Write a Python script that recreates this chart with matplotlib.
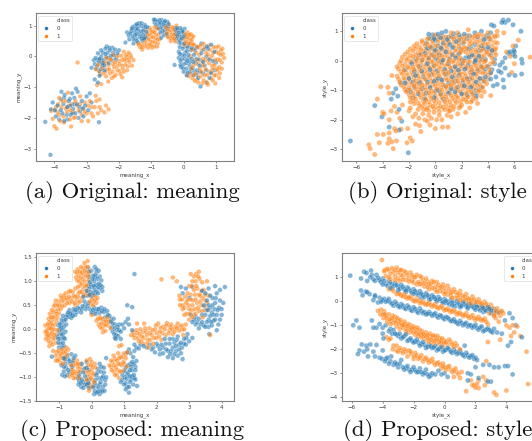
import numpy as np
import matplotlib
matplotlib.use("Agg")
import matplotlib.pyplot as plt
from matplotlib.lines import Line2D

BLUE = '#1f77b4'
ORANGE = '#ff7f0e'
TXT = '#3a3a3a'

a0 = [-4.28,-2.13,-4.12,-3.2,-2.62,-2.14,-4.1,-1.72,-4.05,-1.5,-3.95,-1.95,-3.9,-1.6,-3.85,-2.05,-3.8,-1.4,-3.75,-1.85,-3.7,-2.1,-3.68,-1.25,-3.6,-1.65,-3.55,-1.45,-3.5,-1.9,-3.45,-1.2,-3.42,-1.7,-3.38,-1.35,-3.33,-1.05,-3.3,-1.55,-3.28,-1.15,-3.2,-1.8,-3.15,-1.45,-3.1,-1.95,-3.05,-1.6,-3.0,-1.3,-2.95,-1.75,-2.85,-1.5,-3.25,-2.0,-3.6,-2.05,-3.78,-1.15,-3.5,-1.6,-3.35,-1.85,-2.9,-1.2,
-2.85,-0.37,-2.75,-0.25,-2.72,-0.05,-2.7,-0.4,-2.65,0.1,-2.62,-0.2,-2.6,-0.5,-2.55,0.0,-2.52,-0.3,-2.5,0.12,-2.48,-0.12,-2.45,-0.45,-2.42,0.25,-2.4,-0.02,-2.38,0.32,-2.35,0.12,-2.32,-0.22,-2.28,0.2,-2.25,0.02,-2.2,0.28,-2.18,0.12,-2.12,0.22,-2.05,0.1,-2.6,-0.63,-2.75,-0.75,-2.65,-0.85,-2.0,0.2,-2.58,-0.1,
-1.75,0.78,-1.65,0.75,-1.68,0.55,-1.6,0.9,-1.58,0.65,-1.55,0.42,-1.52,0.8,-1.5,1.0,-1.48,0.58,-1.45,0.72,-1.42,0.9,-1.4,0.45,-1.38,1.08,-1.36,0.62,-1.32,0.82,-1.3,0.98,-1.28,0.52,-1.25,0.7,-1.22,0.9,-1.2,1.02,-1.18,0.62,-1.15,0.8,-1.12,0.95,-1.8,0.45,
-0.92,1.2,-0.9,1.1,-0.85,1.02,-0.8,1.14,-0.78,0.9,-0.74,1.05,-0.72,0.78,-0.68,1.18,-0.66,0.95,-0.62,0.68,-0.6,1.1,-0.58,0.85,-0.55,1.0,-0.52,0.72,-0.5,1.12,-0.48,0.92,-0.7,0.6,
-0.28,0.92,-0.25,0.72,-0.22,0.58,-0.18,0.85,-0.15,0.45,-0.12,0.7,-0.1,0.92,-0.06,0.58,-0.03,0.8,0.0,0.65,0.03,0.9,-0.08,0.42,
-0.28,-0.28,-0.15,-0.05,-0.15,0.15,-0.12,0.3,-0.1,-0.15,-0.08,-0.35,-0.05,0.05,-0.03,0.25,0.0,-0.25,0.0,-0.5,0.02,0.42,0.05,-0.1,0.05,0.12,0.08,-0.4,0.1,-0.62,0.12,0.3,0.12,-0.15,0.15,0.05,0.18,-0.3,0.2,-0.5,0.22,0.2,0.25,-0.08,0.28,-0.38,0.3,-0.6,0.32,0.05,0.38,-0.22,0.42,-0.45,0.45,-0.7,0.52,-0.98,0.48,-0.1,0.55,0.1,0.6,-0.55,0.65,-0.3,0.7,0.0,0.75,0.25,0.8,-0.7,0.85,0.38,0.9,-0.15,0.95,-0.45,0.55,0.42,0.7,-0.85,0.72,0.32,
-3.98,-1.75,-3.8,-1.75,-3.72,-1.55,-3.62,-1.9,-3.45,-1.85,-3.38,-1.55,-3.22,-1.65,-3.12,-1.7,-3.52,-1.38,-3.7,-1.35,
-2.78,-0.12,-2.68,-0.32,-2.6,-0.08,-2.55,0.2,-2.45,-0.3,-2.42,0.08,-2.34,-0.05,-2.3,0.28,-2.22,-0.12,-2.15,0.03,-2.1,-0.1,-2.5,-0.22,-2.66,-0.12,-2.56,-0.42,
-1.62,0.82,-1.7,0.68,-1.55,0.55,-1.5,0.7,-1.45,0.5,-1.42,0.82,-1.4,1.0,-1.35,0.72,-1.3,0.6,-1.3,1.08,-1.25,0.82,-1.22,0.58,-1.18,0.95,-1.15,0.68,-1.58,0.95,-1.48,0.9,-1.45,1.05,
-0.88,1.18,-0.82,0.95,-0.75,1.18,-0.72,0.92,-0.7,1.1,-0.65,0.82,-0.62,1.03,-0.58,1.15,-0.56,0.75,-0.52,0.92,-0.47,1.05,-0.25,0.85,-0.2,0.68,-0.15,0.78,-0.1,0.62,-0.05,0.85,0.0,0.75,-0.12,0.52,-0.2,0.92,
-0.12,0.08,-0.1,-0.28,-0.05,-0.08,-0.02,-0.38,0.02,0.32,0.03,0.02,0.08,-0.22,0.1,0.18,0.12,-0.52,0.15,-0.05,0.18,0.38,0.2,-0.18,0.22,-0.4,0.25,0.28,0.3,-0.18,0.32,-0.48,0.35,0.2,0.4,-0.08,0.42,0.3,0.5,-0.5,0.5,-0.3,0.6,-0.18,0.62,0.22,0.7,-0.45,0.78,-0.1,0.85,-0.55,0.95,0.15,1.0,-0.2,0.4,-0.6]
a1 = [-4.05,-2.03,-4.0,-2.27,-3.93,-2.35,-4.1,-1.77,-4.0,-1.75,-3.9,-1.82,-3.88,-1.55,-3.82,-2.1,-3.78,-1.65,-3.72,-1.95,-3.7,-2.15,-3.65,-1.45,-3.6,-1.8,-3.58,-1.18,-3.52,-2.05,-3.48,-2.28,-3.45,-1.55,-3.42,-1.8,-3.35,-1.98,-3.3,-1.6,-3.25,-1.75,-3.2,-1.3,-3.15,-2.1,-3.1,-1.7,-3.05,-1.5,-3.0,-1.85,-2.95,-2.1,-2.9,-1.45,-2.85,-1.65,-2.8,-1.95,-2.75,-1.65,-2.72,-1.28,-2.65,-1.85,-2.6,-1.4,-2.55,-1.75,-2.45,-1.82,-2.4,-1.6,-2.32,-1.72,-3.28,-0.2,-3.6,-1.65,-3.85,-1.35,
-2.68,-0.93,-2.55,-0.9,-2.33,-0.82,-2.72,-0.42,-2.65,-0.28,-2.62,-0.48,-2.55,-0.15,-2.52,-0.38,-2.48,-0.55,-2.45,-0.22,-2.4,-0.65,-2.38,-0.05,-2.35,-0.42,-2.32,-0.28,-2.28,-0.55,-2.25,-0.12,-2.22,-0.7,-2.18,0.05,-2.15,-0.35,-2.12,-0.2,-2.1,-0.6,-2.05,-0.45,-2.02,0.02,-1.98,-0.25,-1.95,-0.58,-1.9,-0.12,-1.88,-0.4,-1.85,0.15,-1.82,-0.08,-1.8,-0.28,-1.78,0.05,-1.75,-0.45,-1.7,0.12,-1.68,-0.18,-1.62,-0.03,-1.6,-0.3,-1.55,-0.12,-1.9,-0.68,
-1.42,0.42,-1.35,0.3,-1.28,0.4,-1.28,0.22,-1.25,0.6,-1.2,0.32,-1.18,0.48,-1.12,0.72,-1.1,0.28,-1.08,0.55,-1.05,0.38,-1.02,0.85,-1.0,0.65,-0.98,0.28,-0.95,0.48,-0.9,0.78,-0.9,0.32,-0.86,0.58,-0.82,0.9,-0.8,0.42,-0.78,0.7,-0.75,0.55,-1.15,0.82,-1.05,0.92,-0.9,0.95,
-0.55,0.95,-0.52,0.75,-0.48,0.62,-0.45,1.03,-0.42,0.85,-0.4,0.5,-0.38,0.7,-0.35,0.95,-0.3,0.58,-0.28,0.8,-0.25,0.48,-0.22,1.0,-0.2,0.65,
0.0,0.55,0.02,0.38,0.05,0.7,0.08,0.48,0.12,0.33,0.12,0.78,0.15,0.6,0.2,0.42,0.22,0.72,0.25,0.55,0.28,0.38,0.3,0.65,
0.1,-0.6,0.18,-0.65,0.22,0.0,0.25,0.22,0.28,-0.72,0.3,-0.28,0.32,0.38,0.38,-0.55,0.38,0.12,0.42,-0.12,0.45,-0.85,0.45,0.3,0.5,-0.4,0.52,-0.65,0.55,0.2,0.58,-0.18,0.62,0.4,0.62,-0.78,0.68,-0.42,0.7,0.12,0.72,-0.6,0.75,-0.92,0.78,-0.22,0.82,0.2,0.85,-0.5,0.88,0.02,0.9,-0.78,0.92,0.3,0.95,-0.28,0.98,-0.88,1.0,-0.6,1.02,0.15,1.05,-0.1,1.08,0.32,1.1,-0.35,1.12,-0.55,1.15,0.05,1.18,-0.2,1.2,0.25,1.25,-0.05,1.05,-0.45,0.88,-0.3,0.6,-0.08,0.35,-0.8,
-3.95,-1.65,-3.85,-1.9,-3.75,-1.45,-3.65,-1.7,-3.55,-1.6,-3.5,-1.75,-3.4,-2.0,-3.35,-1.45,-3.2,-1.55,-3.15,-1.9,-3.05,-1.8,-2.95,-1.6,-2.85,-1.85,-2.7,-1.45,-2.6,-1.65,
-2.58,-0.6,-2.5,-0.28,-2.42,-0.5,-2.38,-0.18,-2.3,-0.42,-2.28,-0.08,-2.2,-0.5,-2.18,-0.25,-2.08,-0.02,-2.05,-0.32,-2.0,-0.15,-1.98,-0.48,-1.92,0.02,-1.9,-0.3,-1.85,-0.5,-1.8,-0.15,-1.75,-0.02,-1.72,-0.32,-1.65,0.05,-1.7,-0.1,-2.15,-0.65,
-1.38,0.38,-1.3,0.3,-1.22,0.52,-1.15,0.38,-1.12,0.6,-1.05,0.72,-1.02,0.48,-1.0,0.35,-0.95,0.62,-0.92,0.82,-0.88,0.45,-0.85,0.7,-0.82,0.32,-0.8,0.55,-0.98,0.78,
-0.5,0.85,-0.5,0.65,-0.45,0.95,-0.42,0.6,-0.4,0.78,-0.35,0.62,-0.32,0.88,-0.3,0.7,-0.28,0.52,-0.25,0.92,-0.22,0.75,-0.25,0.62,0.03,0.62,0.05,0.42,0.1,0.62,0.14,0.42,0.18,0.7,0.2,0.52,0.25,0.45,0.27,0.65,0.08,0.72,
0.2,-0.55,0.25,-0.38,0.3,-0.62,0.32,0.25,0.35,-0.12,0.4,0.32,0.42,-0.75,0.45,-0.25,0.48,0.05,0.52,0.35,0.55,-0.5,0.58,-0.88,0.6,-0.3,0.65,0.28,0.65,-0.62,0.68,-0.12,0.72,-0.85,0.75,0.05,0.78,0.35,0.8,-0.5,0.82,-0.08,0.85,-0.72,0.9,-0.4,0.92,0.12,0.95,-0.62,0.98,-0.12,1.0,0.3,1.02,-0.4,1.08,0.1,1.1,-0.7,1.12,-0.12,1.15,0.2,1.18,-0.4,1.22,0.08]

b0 = [-6.45,-2.72,-4.6,-1.52,-4.05,-1.9,-3.5,-2.25,-3.35,-1.3,-2.75,-1.65,-2.55,-2.05,-2.75,-2.35,-2.05,-3.12,-2.85,-1.2,-3.0,-0.95,-3.2,-1.1,-2.6,-0.75,
4.25,1.22,4.45,1.18,5.05,1.3,5.15,1.38,5.3,1.3,5.55,1.38,5.9,1.22,6.5,1.0,
4.3,-0.3,4.5,-0.1,4.6,-0.55,4.7,-0.8,4.8,-0.35,4.9,-0.15,5.0,-0.4,5.1,-0.05,5.15,-0.65,5.3,0.1,5.3,-0.25,5.6,-0.48,5.55,0.25,5.65,0.3,5.95,0.35,6.05,-0.5,6.1,0.5,6.05,0.15,6.0,0.3,6.55,0.05,6.55,-0.45,6.6,-0.08,5.9,0.22,5.2,-0.9,4.4,-0.85,
-0.5,0.9,-0.4,0.75,-0.2,0.88,0.0,0.7,0.2,0.9,0.5,0.95,0.8,1.0,1.0,0.8,1.4,0.92,1.8,0.88,2.2,0.9,2.6,0.85,3.0,0.95,3.5,1.0,3.9,0.85,4.2,0.95,-0.7,0.6,-0.3,0.45,0.2,0.5,0.6,0.6,1.1,0.55,1.6,0.65,2.1,0.6,2.5,0.4,3.0,0.55,3.5,0.5,4.0,0.45,-1.2,0.2,-0.8,0.25,-0.2,0.2,0.3,0.2,0.8,0.3,1.3,0.2,1.8,0.25,2.3,0.1,2.8,0.2,3.3,0.15,3.8,0.05,4.2,0.2,-1.8,-0.1,-1.2,-0.2,-0.6,-0.1,-0.1,-0.15,0.4,-0.05,1.0,-0.1,1.5,-0.2,2.0,-0.1,2.5,-0.15,3.0,-0.05,3.5,-0.2,4.0,-0.2,-2.0,-0.6,-1.5,-0.5,-0.9,-0.55,-0.3,-0.45,0.2,-0.6,0.8,-0.45,1.3,-0.55,1.8,-0.5,2.4,-0.6,2.9,-0.45,3.4,-0.6,3.8,-0.55,-2.1,-1.0,-1.6,-0.9,-1.0,-0.95,-0.4,-0.9,0.2,-1.0,0.7,-0.85,1.2,-0.95,1.7,-0.9,2.2,-0.85,2.7,-0.9,3.1,-1.0,3.5,-0.9,-1.7,-1.25,-0.8,-1.3,-0.1,-1.25,0.6,-1.3,2.4,-1.15,3.1,-1.2,
-0.1,0.75,0.4,0.78,0.9,0.72,1.3,0.8,1.9,0.75,2.4,0.75,3.2,0.8,3.7,0.72,4.1,0.75,
-0.6,0.42,0.0,0.35,0.45,0.42,1.3,0.45,1.9,0.4,2.7,0.45,3.3,0.35,3.7,0.4,4.3,0.35,
-1.5,0.05,-1.0,0.02,-0.5,0.1,0.05,0.08,0.55,0.02,1.05,0.05,1.55,0.1,2.05,0.02,2.55,0.12,3.05,0.02,3.55,0.05,4.5,0.05,
-2.3,-0.3,-1.6,-0.35,-1.05,-0.35,-0.4,-0.3,0.15,-0.35,0.7,-0.3,1.2,-0.35,1.75,-0.32,2.25,-0.28,2.75,-0.35,3.25,-0.32,3.75,-0.28,4.2,-0.4,
-2.3,-0.75,-1.7,-0.72,-1.2,-0.75,-0.6,-0.72,-0.1,-0.7,0.5,-0.65,1.0,-0.75,1.5,-0.7,2.1,-0.72,2.6,-0.62,3.1,-0.72,3.7,-0.7,4.2,-0.62,
-1.9,-1.05,-1.3,-1.12,-0.7,-1.1,0.0,-1.02,0.4,-1.12,1.0,-1.1,1.5,-1.05,2.0,-1.12,2.9,-1.12]
b1 = [-5.05,-2.85,-4.95,-2.98,-4.6,-3.18,-4.4,-2.5,-4.25,-2.78,-3.95,-2.5,-3.6,-2.8,-3.5,-2.45,-3.5,-2.65,-3.3,-2.75,-3.2,-2.98,-3.1,-2.3,-3.0,-2.38,-2.95,-2.72,-2.6,-2.32,-2.15,-2.78,-1.9,-2.62,-1.75,-2.72,-4.15,-0.88,-4.0,-1.75,-3.9,-1.8,-4.4,-1.3,-3.5,-1.1,-3.6,-0.9,-3.3,-0.5,-3.35,-1.7,-3.5,-2.0,-3.1,-1.55,-2.9,-1.75,-2.5,-1.5,-2.7,-1.95,-2.1,-2.3,-2.0,-1.7,
-1.9,-1.4,-1.9,-1.6,-1.7,-1.9,-1.5,-1.8,-1.5,-2.15,-1.3,-1.65,-1.25,-1.95,-1.1,-2.4,-1.2,-2.2,-0.95,-1.8,-0.8,-2.0,-0.7,-1.65,-0.6,-2.05,-0.5,-1.85,-0.4,-2.18,-0.3,-1.95,-0.1,-1.75,0.0,-2.3,0.1,-2.0,0.3,-1.85,0.5,-2.0,0.55,-2.25,0.95,-2.25,0.9,-1.85,1.0,-1.7,1.2,-1.9,1.35,-1.65,1.7,-1.8,1.9,-1.55,2.3,-1.75,2.6,-1.6,2.8,-1.35,3.2,-1.45,3.5,-1.2,3.2,-1.1,4.2,-1.18,3.7,-1.05,
-0.9,-1.65,-0.5,-1.7,-0.1,-1.62,0.3,-1.72,0.7,-1.65,1.1,-1.7,
-1.6,-1.45,-1.2,-1.52,-0.8,-1.45,-0.4,-1.5,0.0,-1.45,0.4,-1.55,0.8,-1.48,1.2,-1.52,1.6,-1.42,2.0,-1.5,2.4,-1.4,
-1.9,-1.25,-1.5,-1.3,-1.1,-1.25,-0.7,-1.32,-0.3,-1.28,0.1,-1.3,0.5,-1.25,0.9,-1.32,1.3,-1.28,1.7,-1.25,2.1,-1.3,2.5,-1.22,2.9,-1.25,
-2.2,-1.05,-1.7,-1.1,-1.3,-1.05,-0.9,-1.12,-0.5,-1.08,-0.1,-1.1,0.3,-1.05,0.7,-1.12,1.1,-1.08,1.5,-1.12,1.9,-1.05,2.3,-1.1,2.7,-1.05,3.3,-1.0,
-2.4,-0.88,-2.0,-0.92,-1.6,-0.85,-1.2,-0.9,-0.8,-0.88,-0.4,-0.92,0.0,-0.85,0.4,-0.9,0.8,-0.88,1.2,-0.82,1.6,-0.92,2.0,-0.85,2.4,-0.9,2.8,-0.85,3.2,-0.85,3.6,-0.9,
-2.7,-0.72,-2.3,-0.65,-1.9,-0.7,-1.5,-0.68,-1.1,-0.72,-0.7,-0.65,-0.3,-0.7,0.1,-0.68,0.5,-0.72,0.9,-0.65,1.3,-0.7,1.7,-0.68,2.1,-0.65,2.5,-0.72,2.9,-0.68,3.3,-0.65,3.7,-0.68,
-2.9,-0.52,-2.5,-0.45,-2.1,-0.5,-1.7,-0.48,-1.3,-0.52,-0.9,-0.45,-0.5,-0.5,-0.1,-0.48,0.3,-0.52,0.7,-0.45,1.1,-0.5,1.5,-0.48,1.9,-0.45,2.3,-0.52,2.7,-0.48,3.1,-0.45,3.6,-0.42,4.0,-0.48,
-2.8,-0.28,-2.4,-0.32,-2.0,-0.25,-1.6,-0.3,-1.2,-0.28,-0.8,-0.32,-0.4,-0.25,0.0,-0.3,0.4,-0.28,0.8,-0.32,1.2,-0.25,1.6,-0.3,2.0,-0.28,2.4,-0.25,2.8,-0.3,3.2,-0.28,3.6,-0.25,4.1,-0.3,
-2.7,-0.08,-2.3,-0.12,-1.9,-0.05,-1.5,-0.1,-1.1,-0.08,-0.7,-0.12,-0.3,-0.05,0.1,-0.1,0.5,-0.08,0.9,-0.12,1.3,-0.05,1.7,-0.1,2.1,-0.08,2.5,-0.05,2.9,-0.12,3.3,-0.08,3.7,-0.05,4.2,-0.1,
-2.5,0.12,-2.1,0.08,-1.7,0.14,-1.3,0.1,-0.9,0.12,-0.5,0.08,-0.1,0.14,0.3,0.1,0.7,0.12,1.1,0.08,1.5,0.14,1.9,0.1,2.3,0.3,2.7,0.14,3.1,0.1,3.5,0.14,3.9,0.28,4.3,0.1,4.6,0.2,
-2.1,0.3,-1.7,0.34,-1.3,0.28,-0.9,0.32,-0.5,0.3,-0.1,0.34,0.3,0.28,0.7,0.32,1.1,0.3,1.5,0.34,1.9,0.28,2.7,0.32,3.1,0.3,3.5,0.34,3.9,0.3,4.3,0.35,4.6,0.42,
-1.6,0.5,-1.2,0.46,-0.8,0.52,-0.4,0.48,0.0,0.5,0.4,0.46,0.8,0.52,1.4,0.48,1.8,0.5,2.2,0.46,2.6,0.55,3.3,0.48,3.8,0.55,4.3,0.5,4.7,0.6,
-1.0,0.68,-0.6,0.74,-0.2,0.68,0.2,0.72,0.6,0.7,1.0,0.66,1.4,0.74,1.8,0.7,2.2,0.74,2.6,0.68,3.0,0.72,3.4,0.7,3.8,0.74,4.2,0.7,4.7,0.85,
0.0,0.88,0.6,0.82,1.2,0.95,1.7,0.95,2.5,1.05,3.0,0.85,3.3,0.9,4.0,0.95,4.5,0.85,4.7,1.0,5.2,0.95,5.9,0.5,6.3,0.7,5.4,0.3,5.7,0.15,6.0,-0.1,5.8,-0.4,7.2,0.12,
-1.0,-1.55,-0.6,-1.6,-0.2,-1.55,0.2,-1.6,0.6,-1.58,1.0,-1.6,1.4,-1.55,1.8,-1.6,
-1.7,-1.35,-1.3,-1.42,-0.9,-1.38,-0.5,-1.4,-0.1,-1.35,0.3,-1.42,0.7,-1.38,1.1,-1.4,1.5,-1.35,1.9,-1.38,2.3,-1.32,2.7,-1.4,
-2.0,-1.15,-1.6,-1.2,-1.2,-1.15,-0.8,-1.22,-0.4,-1.18,0.0,-1.2,0.4,-1.15,0.8,-1.22,1.2,-1.18,1.6,-1.2,2.0,-1.15,2.4,-1.22,2.8,-1.12,3.1,-1.28,
-2.3,-0.98,-1.9,-1.0,-1.5,-0.95,-1.1,-1.0,-0.7,-0.98,-0.3,-1.02,0.1,-0.95,0.5,-1.0,0.9,-0.98,1.3,-0.95,1.7,-1.0,2.1,-0.95,2.5,-1.0,2.9,-0.95,3.4,-1.02,
-2.6,-0.82,-2.2,-0.78,-1.8,-0.8,-1.4,-0.78,-1.0,-0.82,-0.6,-0.78,-0.2,-0.8,0.2,-0.78,0.6,-0.82,1.0,-0.85,1.4,-0.8,1.8,-0.78,2.2,-0.82,2.6,-0.8,3.0,-0.78,3.4,-0.8,3.9,-0.78,
-2.8,-0.62,-2.4,-0.58,-2.0,-0.6,-1.6,-0.58,-1.2,-0.62,-0.8,-0.6,-0.4,-0.58,0.0,-0.62,0.4,-0.6,0.8,-0.58,1.2,-0.62,1.6,-0.6,2.0,-0.58,2.4,-0.62,2.8,-0.58,3.2,-0.55,3.6,-0.6,4.0,-0.62,
-2.6,-0.38,-2.2,-0.4,-1.8,-0.38,-1.4,-0.42,-1.0,-0.38,-0.6,-0.4,-0.2,-0.38,0.2,-0.42,0.6,-0.38,1.0,-0.4,1.4,-0.38,1.8,-0.4,2.2,-0.42,2.6,-0.38,3.0,-0.4,3.4,-0.38,3.8,-0.4,4.2,-0.42,
-2.9,-0.2,-2.5,-0.18,-2.1,-0.2,-1.7,-0.22,-1.3,-0.18,-0.9,-0.2,-0.5,-0.22,-0.1,-0.18,0.3,-0.2,0.7,-0.18,1.1,-0.22,1.5,-0.2,1.9,-0.18,2.3,-0.2,2.7,-0.22,3.1,-0.18,3.5,-0.2,3.9,-0.18,
-2.6,0.0,-2.2,0.02,-1.8,-0.02,-1.4,0.0,-1.0,0.02,-0.6,0.0,-0.2,-0.02,0.2,0.0,0.6,0.02,1.0,-0.02,1.4,0.0,1.8,0.02,2.2,0.0,2.6,-0.02,3.0,0.0,3.4,0.02,3.8,0.0,4.4,-0.05,
-2.3,0.22,-1.9,0.18,-1.5,0.2,-1.1,0.22,-0.7,0.18,-0.3,0.2,0.1,0.22,0.5,0.18,0.9,0.2,1.3,0.22,1.7,0.18,2.1,0.35,2.5,0.2,2.9,0.18,3.3,0.22,3.7,0.18,4.1,0.2,4.5,0.28,
-1.9,0.4,-1.5,0.42,-1.1,0.38,-0.7,0.4,-0.3,0.42,0.1,0.38,0.5,0.4,0.9,0.42,1.6,0.4,2.0,0.38,2.4,0.42,3.0,0.38,3.6,0.42,4.1,0.4,4.5,0.38,
-1.4,0.58,-1.0,0.62,-0.6,0.58,-0.2,0.6,0.2,0.62,0.6,0.58,1.0,0.6,1.4,0.62,1.8,0.6,2.2,0.64,2.8,0.6,3.2,0.62,3.6,0.6,4.0,0.58,4.5,0.62,
-0.5,0.78,-0.1,0.8,0.3,0.82,0.8,0.8,1.2,0.82,1.6,0.8,2.0,0.82,2.4,0.85,2.8,0.8,3.2,0.82,3.6,0.85,4.1,0.8,4.5,0.8]

c0 = [-0.1,1.28,0.0,1.22,0.1,1.3,0.15,1.18,0.05,1.12,-0.08,1.1,0.18,1.05,0.08,1.0,-0.05,0.98,0.22,0.95,0.3,1.02,-0.1,0.9,0.02,0.88,0.14,0.92,0.25,0.85,0.33,0.88,-0.15,0.8,-0.03,0.78,0.1,0.82,0.2,0.75,0.33,0.8,-0.12,0.7,0.0,0.68,0.12,1.12,0.22,1.22,
-0.25,0.68,-0.22,0.58,-0.1,0.55,-0.28,0.48,-0.18,0.42,-0.05,0.42,-0.38,0.42,-0.45,0.36,-0.55,0.42,-0.6,0.34,-0.68,0.4,-0.75,0.3,-0.8,0.2,-0.88,0.28,-0.9,0.12,-0.95,0.02,-1.02,0.08,-0.85,0.05,-0.98,-0.08,-0.88,-0.1,-1.05,-0.15,-0.95,-0.2,-1.02,-0.28,-0.88,-0.28,-1.0,-0.38,-0.9,-0.38,-0.82,-0.2,-0.78,0.1,-0.7,0.26,-0.62,0.24,-0.5,0.3,-0.32,0.35,
0.05,0.4,0.12,0.32,0.18,0.42,0.25,0.34,0.3,0.45,0.38,0.36,0.42,0.25,0.48,0.38,0.55,0.28,0.6,0.16,0.68,0.22,0.72,0.1,0.62,0.04,0.78,-0.02,0.85,0.1,0.7,-0.1,0.82,-0.14,0.9,-0.05,0.75,-0.2,0.9,-0.2,0.95,0.1,1.0,0.02,1.05,0.15,1.12,0.22,1.1,0.5,1.25,0.46,1.32,1.15,1.15,0.1,1.25,-0.02,
-1.22,-0.57,-0.85,-0.6,-0.75,-0.55,-0.62,-0.52,-0.92,-0.75,-0.8,-0.72,-0.68,-0.66,-0.55,-0.6,-0.85,-0.88,-0.72,-0.85,-0.6,-0.78,-0.9,-0.95,-0.75,-0.95,-0.5,-0.55,
-0.42,-1.02,-0.35,-0.9,-0.3,-0.72,-0.22,-0.82,-0.4,-1.15,-0.3,-1.05,-0.2,-0.98,-0.15,-0.68,-0.1,-0.85,-0.32,-1.2,-0.2,-1.15,-0.08,-1.05,-0.08,-1.22,
0.08,-1.35,0.05,-1.2,0.12,-1.05,0.2,-1.3,0.18,-0.9,0.25,-1.15,0.3,-0.78,0.32,-1.02,0.3,-1.28,0.38,-0.9,0.42,-1.15,0.4,-1.28,0.45,-1.0,0.15,-1.18,0.25,-0.72,0.45,-0.6,
0.9,-1.1,0.95,-0.95,1.0,-1.15,1.05,-0.8,1.08,-1.03,1.12,-0.9,1.15,-1.2,1.2,-0.72,1.22,-1.05,1.25,-0.85,1.3,-0.95,1.3,-0.72,1.35,-0.85,1.38,-0.66,1.4,-1.18,1.15,-1.32,1.05,-1.25,1.35,-1.05,
1.15,-0.42,1.2,-0.5,1.28,-0.58,1.32,-0.45,1.38,-0.38,1.45,-0.4,1.32,-0.32,1.1,-0.48,
1.5,-0.32,1.7,-0.38,1.85,-0.42,1.95,-0.48,2.0,-0.3,2.1,-0.42,2.15,-0.32,2.2,-0.5,2.25,-0.2,2.3,-0.42,2.35,-0.58,2.4,-0.3,2.45,-0.45,2.5,-0.2,2.55,-0.52,2.6,-0.35,2.65,-0.15,2.7,-0.42,2.75,-0.28,2.85,-0.2,2.9,-0.32,3.0,-0.25,3.1,-0.18,2.5,-0.6,2.75,-0.5,2.8,-0.62,2.95,-0.1,
2.75,0.88,2.9,0.85,3.1,0.88,3.0,0.65,3.15,0.2,3.05,0.3,3.2,0.1,3.3,0.22,3.3,0.02,3.4,0.15,3.5,0.3,3.5,0.05,3.6,0.2,3.65,0.45,3.7,0.08,3.75,0.3,3.8,0.55,3.8,0.2,3.85,0.75,3.88,0.4,3.9,0.1,3.95,0.6,4.0,0.3,4.05,0.55,4.1,0.88,3.8,0.9,3.6,0.85,3.95,0.82,3.55,0.6,3.65,0.7,3.45,0.5,3.6,0.05,3.7,0.35,3.85,-0.02,3.62,-0.1,3.4,0.8,3.5,0.75,2.8,0.75,
-0.08,1.2,0.03,1.05,0.15,1.25,0.1,1.08,0.25,1.1,-0.02,0.93,0.08,0.9,0.2,0.88,-0.08,0.85,0.28,0.92,0.05,0.75,0.15,0.78,-0.06,0.72,0.1,0.72,
-0.2,0.5,-0.12,0.48,-0.3,0.42,-0.42,0.45,-0.5,0.4,-0.58,0.28,-0.65,0.32,-0.72,0.35,-0.78,0.25,-0.85,0.18,-0.92,0.2,-0.98,0.12,-0.9,-0.02,-0.8,-0.05,-1.0,-0.02,-0.92,-0.12,-0.85,-0.18,-1.02,-0.2,-0.95,-0.3,-0.85,-0.35,-0.95,0.05,
0.0,0.35,0.08,0.45,0.15,0.38,0.22,0.42,0.32,0.38,0.4,0.42,0.5,0.3,0.58,0.22,0.65,0.12,0.7,0.02,0.65,-0.05,0.75,-0.12,0.85,-0.02,0.8,0.05,0.72,-0.18,
-0.82,-0.62,-0.72,-0.62,-0.78,-0.8,-0.65,-0.72,-0.58,-0.68,-0.82,-0.98,-0.68,-0.9,-0.85,-0.78,-0.38,-0.98,-0.33,-1.12,-0.25,-0.9,-0.25,-1.1,-0.15,-0.8,-0.15,-1.05,-0.38,-1.08,-0.25,-1.22,-0.15,-1.15,-0.1,-1.12,
0.1,-1.28,0.1,-1.12,0.15,-0.95,0.22,-1.22,0.22,-1.02,0.28,-0.88,0.28,-1.1,0.35,-1.2,0.35,-0.98,0.38,-0.8,0.42,-1.06,0.15,-1.32,0.25,-1.35,0.33,-1.3,0.2,-0.82,
0.95,-1.05,1.0,-0.88,1.05,-1.12,1.1,-0.95,1.12,-0.75,1.18,-1.1,1.18,-0.85,1.25,-0.98,1.25,-0.68,1.32,-1.02,1.35,-0.78,1.28,-1.15,1.02,-1.0,1.1,-1.2,1.18,-0.98,1.22,-0.78,
1.6,-0.35,1.8,-0.32,1.9,-0.38,2.05,-0.35,2.1,-0.52,2.2,-0.38,2.28,-0.3,2.35,-0.45,2.4,-0.2,2.42,-0.52,2.5,-0.38,2.55,-0.28,2.6,-0.45,2.65,-0.55,2.7,-0.32,2.78,-0.38,2.85,-0.3,2.62,-0.22,2.92,-0.18,
3.1,0.15,3.2,0.25,3.25,0.15,3.35,0.1,3.4,0.3,3.45,0.08,3.55,0.15,3.58,0.4,3.65,0.28,3.68,0.15,3.72,0.5,3.75,0.18,3.78,0.42,3.82,0.65,3.85,0.3,3.92,0.45,3.95,0.2,4.0,0.42,3.72,0.65,3.6,0.5,3.5,0.4]
c1 = [-0.5,1.2,-0.48,1.08,-0.42,1.25,-0.4,1.12,-0.38,1.0,-0.32,1.3,-0.3,1.18,-0.28,1.05,-0.22,1.38,-0.2,1.22,-0.18,1.1,-0.12,1.42,-0.12,1.3,-0.1,1.0,-0.05,1.2,-0.3,0.95,-0.2,0.9,-0.13,0.8,-0.1,1.12,-0.42,0.88,-0.3,0.78,-0.2,0.7,
-0.3,0.65,-0.4,0.75,-0.45,0.62,-0.5,0.85,-0.55,0.7,-0.6,0.58,-0.65,0.8,-0.7,0.68,-0.75,0.55,-0.8,0.75,-0.85,0.62,-0.9,0.48,-0.95,0.7,-1.0,0.58,-1.02,0.42,-1.1,0.6,-1.1,0.38,-1.15,0.48,-1.15,0.25,-1.22,0.4,-1.22,0.18,-1.28,0.32,-1.28,0.08,-1.32,0.22,-1.35,0.0,-1.42,0.08,-1.42,-0.05,-1.35,-0.12,-1.4,-0.2,-1.32,-0.25,-1.25,-0.15,-1.2,-0.02,-1.12,0.1,-1.08,-0.1,-1.18,-0.2,-1.3,-0.35,-1.2,-0.32,-1.1,-0.28,-1.2,0.08,-1.05,0.25,-0.95,0.42,-0.82,0.5,-0.68,0.55,-0.5,0.5,-0.4,0.55,
-0.08,0.72,0.02,0.62,0.1,0.7,0.18,0.65,0.05,0.5,-0.05,0.58,0.15,0.55,0.05,0.32,0.0,0.3,
0.15,0.18,0.22,0.1,0.28,0.22,0.32,0.02,0.38,0.15,0.42,-0.03,0.48,0.25,0.5,0.08,0.56,0.18,0.35,-0.06,0.58,0.02,0.25,0.25,
-1.1,-0.55,-1.02,-0.45,-1.05,-0.65,-0.95,-0.55,-0.92,-0.42,-0.95,-0.7,-0.85,-0.5,-0.82,-0.65,-0.78,-0.38,-0.75,-0.52,-0.72,-0.42,-1.18,-0.45,
-0.62,-0.85,-0.6,-0.95,-0.55,-0.75,-0.52,-0.88,-0.5,-1.0,-0.45,-0.65,-0.42,-0.8,-0.4,-0.95,-0.35,-0.72,-0.32,-0.85,-0.55,-1.02,-0.68,-0.98,
-0.18,-0.9,-0.15,-1.05,-0.1,-0.75,-0.05,-0.95,-0.05,-1.15,0.0,-0.68,0.0,-0.85,0.02,-1.05,0.08,-0.95,0.05,-1.18,0.12,-0.8,-0.08,-1.28,-0.02,-1.22,-0.15,-0.65,-0.05,-0.62,
0.55,-0.75,0.6,-0.65,0.62,-0.85,0.68,-0.55,0.7,-0.75,0.72,-0.95,0.78,-0.65,0.8,-0.85,0.82,-0.5,0.85,-1.02,0.88,-0.72,0.9,-0.58,0.92,-0.88,0.98,-0.68,1.0,-0.5,1.05,-0.6,1.08,-0.78,1.1,-0.48,0.85,-0.35,0.92,-0.33,
1.22,-0.12,1.28,-0.05,1.32,-0.18,1.4,-0.08,1.45,-0.25,1.5,0.0,1.55,-0.15,1.6,-0.3,1.62,0.12,1.68,-0.05,1.72,-0.22,1.78,0.02,1.85,-0.12,1.9,-0.3,1.95,0.0,2.0,-0.18,2.05,0.12,2.1,-0.05,2.15,-0.22,2.2,0.05,2.28,-0.12,2.32,0.13,2.4,-0.02,2.45,0.1,2.5,-0.1,2.58,0.05,2.65,0.12,2.7,-0.03,2.78,0.08,2.82,-0.12,2.85,0.0,1.4,0.12,1.75,-0.38,
2.5,1.08,2.15,1.04,2.62,1.0,2.7,0.7,2.72,0.5,2.78,0.62,2.8,0.42,2.85,0.3,2.9,0.55,2.95,0.75,3.0,0.42,3.0,0.2,3.05,0.62,3.05,1.15,3.08,0.9,3.1,0.5,3.15,0.3,3.18,0.72,3.2,1.0,3.25,0.55,3.25,0.85,3.3,0.38,3.3,1.2,3.35,0.7,3.38,0.5,3.42,0.25,3.45,0.82,3.5,0.6,3.55,0.4,3.6,0.7,3.32,1.05,3.22,1.15,3.15,1.1,3.4,0.98,3.65,-0.12,2.9,0.1,3.55,1.0,
-0.45,1.18,-0.44,1.02,-0.36,1.2,-0.34,1.08,-0.26,1.26,-0.25,1.14,-0.18,1.3,-0.15,1.18,-0.22,1.0,-0.15,0.92,-0.08,1.05,-0.35,0.92,-0.25,0.85,-0.15,0.75,-0.36,0.78,-0.25,0.72,
-0.35,0.58,-0.42,0.68,-0.5,0.68,-0.52,0.55,-0.58,0.78,-0.62,0.65,-0.7,0.78,-0.72,0.62,-0.78,0.65,-0.85,0.7,-0.9,0.58,-0.92,0.65,-0.98,0.5,-1.05,0.5,-1.08,0.32,-1.12,0.52,-1.18,0.35,-1.2,0.25,-1.25,0.25,-1.3,0.15,-1.25,0.12,-1.35,0.1,-1.38,-0.05,-1.3,0.02,-1.25,0.02,-1.3,-0.1,-1.22,-0.08,-1.15,0.0,-1.12,-0.18,-1.38,-0.12,-1.25,-0.28,-1.32,-0.18,-1.15,-0.12,-1.05,-0.02,-1.08,0.18,-1.0,0.33,
0.0,0.7,0.08,0.58,0.12,0.62,-0.02,0.52,0.2,0.22,0.26,0.05,0.34,0.22,0.4,0.08,0.45,0.18,0.3,0.12,0.44,0.1,0.52,0.15,
-1.08,-0.48,-1.0,-0.62,-0.98,-0.5,-0.9,-0.6,-0.88,-0.48,-0.88,-0.72,-0.8,-0.45,-0.8,-0.58,-1.1,-0.65,
-0.58,-0.85,-0.56,-0.65,-0.48,-0.72,-0.48,-0.92,-0.42,-0.72,-0.4,-0.88,-0.38,-1.02,-0.58,-0.92,-0.62,-0.75,-0.35,-0.78,
-0.15,-0.82,-0.12,-0.98,-0.1,-1.12,-0.08,-0.88,-0.02,-0.75,-0.02,-1.02,0.03,-0.78,0.05,-0.92,0.08,-1.1,0.1,-0.72,-0.12,-1.18,
0.6,-0.78,0.65,-0.68,0.68,-0.88,0.72,-0.62,0.75,-0.8,0.78,-0.95,0.82,-0.72,0.85,-0.6,0.88,-0.88,0.92,-0.75,0.95,-0.58,1.0,-0.72,1.0,-0.85,1.05,-0.52,
1.3,-0.12,1.38,-0.02,1.42,-0.18,1.48,-0.1,1.52,-0.25,1.58,-0.05,1.6,-0.18,1.65,0.02,1.7,-0.12,1.72,-0.3,1.8,-0.08,1.8,-0.22,1.88,-0.02,1.92,-0.18,1.98,0.08,2.0,-0.08,2.08,-0.15,2.12,0.03,2.18,-0.08,2.25,0.0,2.3,0.08,2.38,-0.08,2.42,0.05,2.48,0.0,2.55,-0.05,2.62,0.02,2.72,0.05,2.8,0.0,
2.72,0.62,2.8,0.5,2.85,0.45,2.88,0.68,2.92,0.32,2.95,0.6,2.98,0.5,3.02,0.32,3.05,0.72,3.08,0.4,3.12,0.6,3.15,0.82,3.18,0.42,3.2,0.62,3.22,0.9,3.28,0.45,3.3,0.72,3.35,0.58,3.38,0.8,3.4,0.38,3.42,0.65,3.48,0.48,3.5,0.72,3.55,0.55,3.2,0.32,3.1,0.25,3.28,1.1,3.1,1.0,3.0,0.9]

d0 = [-6.1,1.07,-5.2,1.23,-5.4,0.95,-5.05,1.18,-4.75,1.28,-4.7,1.1,-5.0,0.85,-5.4,0.45,-5.3,0.25,-5.1,0.4,-4.85,0.3,-4.5,0.2,-5.0,0.38,-4.6,0.05,
-4.8,1.0,-4.6,0.92,-4.4,1.1,-4.2,0.88,-4.0,0.95,-3.8,0.72,-3.6,0.85,-3.4,0.7,-3.2,0.75,-3.0,0.6,-2.8,0.68,-2.6,0.5,-2.4,0.58,-2.2,0.42,-2.0,0.5,-1.8,0.35,-1.6,0.42,-1.4,0.25,-1.2,0.33,-1.0,0.18,-0.8,0.25,-0.6,0.1,-0.4,0.18,-0.2,0.0,0.0,0.1,0.2,-0.05,0.4,0.05,0.6,-0.1,0.8,0.0,1.0,-0.15,1.2,-0.05,1.4,-0.2,1.6,-0.1,1.8,-0.22,2.0,-0.15,2.2,-0.3,2.4,-0.2,2.6,-0.35,2.8,-0.25,3.0,-0.38,3.2,-0.32,3.4,-0.42,3.6,-0.45,3.0,-0.5,2.5,-0.45,2.0,-0.35,1.5,-0.3,1.0,-0.25,0.5,-0.18,0.0,-0.08,-0.5,0.0,-1.0,0.05,-1.5,0.15,-2.0,0.3,-2.5,0.38,-3.0,0.45,-3.5,0.55,-4.0,0.7,
-4.5,0.25,-4.2,0.15,-4.3,-0.05,-4.0,0.05,-3.8,-0.02,-3.6,0.1,-3.4,-0.1,-3.2,-0.02,-3.0,-0.2,-2.8,-0.12,-2.6,-0.28,-2.4,-0.18,-2.2,-0.35,-2.0,-0.25,-1.8,-0.42,-1.6,-0.3,-1.4,-0.5,-1.2,-0.55,-1.0,-0.45,-0.8,-0.6,-0.6,-0.5,-0.4,-0.68,-0.2,-0.62,0.0,-0.75,0.2,-0.68,0.4,-0.82,0.6,-0.75,0.8,-0.9,1.0,-0.82,1.2,-1.0,1.4,-0.9,1.6,-1.0,1.8,-1.1,2.0,-0.98,2.2,-1.18,2.4,-1.05,2.6,-1.2,2.8,-1.12,3.0,-1.25,3.2,-1.15,3.4,-1.3,3.7,-1.35,4.2,-0.5,4.4,-0.7,3.9,-0.8,4.6,-1.0,4.1,-1.85,4.3,-1.7,5.0,-1.5,
-5.9,-1.0,-5.7,-0.8,-5.5,-1.1,-4.7,-0.8,-4.6,-1.1,-4.4,-1.1,-4.0,-1.1,-4.2,-0.95,-3.8,-1.0,-4.0,-1.35,-3.95,-1.55,-3.6,-1.25,-3.4,-1.35,-3.2,-1.35,-3.0,-1.45,-2.8,-1.55,-2.6,-1.45,-2.4,-1.65,-2.2,-1.55,-2.0,-1.72,-1.8,-1.6,-1.6,-1.85,-1.4,-1.7,-1.2,-1.95,-1.0,-1.8,-0.8,-1.95,-0.6,-1.85,-0.4,-2.0,-0.2,-1.9,0.0,-2.05,0.2,-1.95,0.4,-2.1,0.6,-2.0,0.8,-2.2,1.0,-2.05,1.2,-2.25,1.4,-2.15,1.6,-2.35,1.8,-2.25,2.0,-2.35,2.1,-2.45,1.3,-1.85,
-5.5,-2.05,-5.6,-2.2,-5.2,-2.1,-5.35,-1.8,-5.0,-2.0,-4.95,-2.3,-5.05,-1.85,-4.8,-1.8,-4.6,-2.1,-4.5,-2.3,-4.4,-1.82,-4.2,-2.35,-4.05,-2.4,-4.0,-2.05,-3.85,-2.5,-3.7,-2.35,-3.6,-2.6,-3.45,-2.3,-3.3,-2.65,-3.2,-2.55,-3.0,-2.75,-2.8,-2.45,-2.6,-2.85,-2.4,-2.7,-2.2,-2.95,-2.0,-2.75,-1.8,-2.95,-1.6,-2.8,-1.4,-3.05,-1.2,-2.85,-1.0,-3.15,-0.8,-3.0,-0.6,-3.05,-0.4,-2.9,-0.2,-3.05,0.0,-3.0,0.2,-3.15,1.5,-3.0,1.7,-3.05,2.0,-2.75,2.5,-2.65,2.9,-2.65,2.2,-3.2,2.8,-3.35,3.0,-3.35,3.5,-2.75,3.9,-2.7,4.1,-2.7,4.4,-3.05,3.2,-2.75,1.5,-3.3,
-4.5,0.85,-4.3,0.98,-4.1,0.8,-3.9,0.85,-3.7,0.65,-3.5,0.78,-3.3,0.62,-3.1,0.68,-2.9,0.52,-2.7,0.6,-2.5,0.45,-2.3,0.5,-2.1,0.36,-1.9,0.42,-1.7,0.28,-1.5,0.32,-1.3,0.18,-1.1,0.25,-0.9,0.1,-0.7,0.18,-0.5,0.06,-0.3,0.1,-0.1,-0.05,0.1,0.02,0.3,-0.12,0.5,-0.04,0.7,-0.2,0.9,-0.08,1.1,-0.2,1.3,-0.12,1.5,-0.22,1.7,-0.18,1.9,-0.28,2.1,-0.22,2.3,-0.38,2.5,-0.28,2.7,-0.4,2.9,-0.32,3.1,-0.42,3.3,-0.48,
-3.9,0.1,-4.1,-0.02,-3.7,0.02,-3.5,-0.05,-3.3,-0.18,-3.1,-0.1,-2.9,-0.25,-2.7,-0.18,-2.5,-0.32,-2.3,-0.25,-2.1,-0.4,-1.9,-0.32,-1.7,-0.48,-1.5,-0.4,-1.3,-0.45,-1.1,-0.52,-0.9,-0.52,-0.7,-0.55,-0.5,-0.62,-0.3,-0.58,-0.1,-0.7,0.1,-0.65,0.3,-0.75,0.5,-0.82,0.7,-0.85,0.9,-0.95,1.1,-0.9,1.3,-0.95,1.5,-1.05,1.7,-1.0,1.9,-1.05,2.1,-1.12,2.3,-1.1,2.5,-1.25,2.7,-1.18,2.9,-1.2,3.1,-1.3,
-3.5,-1.15,-3.3,-1.2,-3.1,-1.38,-2.9,-1.35,-2.7,-1.5,-2.5,-1.38,-2.3,-1.6,-2.1,-1.65,-1.9,-1.68,-1.7,-1.72,-1.5,-1.78,-1.3,-1.82,-1.1,-1.9,-0.9,-1.88,-0.7,-1.92,-0.5,-2.05,-0.3,-1.98,-0.1,-2.1,0.1,-2.02,0.3,-2.0,0.5,-2.15,0.7,-2.1,0.9,-2.15,1.1,-2.18,1.3,-2.3,1.5,-2.25,1.7,-2.3,1.9,-2.4,
-3.8,-2.4,-3.5,-2.5,-3.1,-2.62,-2.9,-2.6,-2.7,-2.75,-2.5,-2.78,-2.3,-2.85,-2.1,-2.85,-1.9,-2.88,-1.7,-2.95,-1.5,-2.95,-1.3,-2.98,-1.1,-3.05,-0.9,-3.1]
d1 = [-4.05,1.72,-3.9,1.25,-3.8,1.05,-3.7,1.35,-3.5,1.15,-3.4,1.38,-3.2,1.05,-3.1,1.4,-3.0,1.2,-2.8,1.3,-2.7,1.05,-2.5,1.2,-2.3,0.95,-2.2,1.2,-2.0,1.0,-1.8,1.1,-1.7,0.8,-1.5,1.0,-1.3,0.75,-1.2,0.95,-1.0,0.7,-0.8,0.85,-0.6,0.6,-0.5,0.8,-0.3,0.55,-0.1,0.7,0.1,0.4,0.2,0.65,0.4,0.35,0.6,0.5,0.8,0.25,1.0,0.42,1.2,0.15,1.4,0.3,1.6,0.08,1.8,0.2,2.0,-0.02,2.2,0.08,2.4,-0.1,2.6,-0.02,2.8,-0.2,3.0,-0.15,3.2,-0.55,3.4,-0.3,3.6,-0.6,3.8,-0.5,3.3,-0.7,2.9,-0.5,-3.6,1.0,-3.0,0.95,-2.5,0.9,-2.0,0.78,-1.5,0.72,-1.0,0.5,-0.5,0.4,0.0,0.3,0.5,0.15,1.0,0.05,1.5,-0.1,2.0,-0.2,2.5,-0.3,
-3.6,0.5,-3.3,0.42,-3.0,0.35,-2.8,0.25,-2.6,0.3,-2.4,0.12,-2.2,0.2,-2.0,0.02,-1.8,0.12,-1.6,-0.08,-1.4,0.0,-1.2,-0.15,-1.0,-0.05,-0.8,-0.22,-0.6,-0.12,-0.4,-0.3,-0.2,-0.2,0.0,-0.38,0.2,-0.3,0.4,-0.45,0.6,-0.35,0.8,-0.55,1.0,-0.48,1.2,-0.62,1.4,-0.5,1.6,-0.7,1.8,-0.58,2.0,-0.78,2.2,-0.65,2.4,-0.8,2.6,-0.72,2.8,-0.95,3.5,-0.85,4.0,-1.0,4.2,-1.1,4.4,-1.0,4.7,-1.05,4.9,-1.45,4.5,-1.3,3.6,-1.6,2.8,-1.7,4.3,-1.45,5.3,-2.1,6.0,-1.35,5.4,-3.45,
-4.3,-0.4,-4.1,-0.35,-4.15,-0.55,-3.9,-0.42,-3.95,-0.7,-3.8,-0.6,-3.7,-0.85,-3.6,-0.55,-3.5,-0.95,-3.4,-0.7,-3.3,-0.9,-3.2,-0.65,-3.1,-1.05,-3.0,-0.8,-2.9,-1.15,-2.8,-0.9,-2.7,-1.1,-2.6,-0.85,-2.5,-1.25,-2.4,-1.05,-2.3,-1.3,-2.2,-1.0,-2.1,-1.2,-2.0,-1.05,-1.9,-1.4,-1.8,-1.2,-1.7,-1.45,-1.6,-1.2,-1.5,-1.5,-1.4,-1.35,-1.3,-1.55,-1.2,-1.3,-1.1,-1.65,-1.0,-1.45,-0.9,-1.7,-0.8,-1.5,-0.7,-1.75,-0.6,-1.45,-0.5,-1.6,-0.4,-1.8,-0.3,-1.55,-0.2,-1.75,-0.1,-1.9,0.0,-1.65,0.2,-1.8,0.4,-1.7,0.6,-1.9,0.8,-1.85,1.0,-2.0,
-3.75,-1.5,-3.6,-1.6,-3.5,-1.55,-3.3,-1.85,-3.1,-1.85,-3.35,-2.0,-3.0,-2.1,-2.9,-1.95,-2.7,-2.15,-2.6,-2.0,-2.4,-2.3,-2.3,-2.05,-2.15,-2.2,-2.0,-2.4,-1.9,-2.15,-1.7,-2.4,-1.5,-2.25,-1.4,-2.5,-1.2,-2.35,-1.0,-2.55,-0.8,-2.4,-0.6,-2.65,-0.4,-2.55,-0.2,-2.8,-0.1,-2.6,0.1,-2.85,0.3,-2.7,0.5,-2.95,0.7,-2.8,0.9,-3.05,1.1,-2.95,1.0,-3.2,0.6,-3.15,1.4,-3.75,1.7,-3.3,1.8,-3.5,1.9,-3.5,2.1,-3.45,2.2,-3.62,2.2,-3.3,2.5,-3.15,2.6,-3.5,2.7,-3.3,3.2,-3.8,3.35,-3.9,4.0,-3.72,2.0,-3.6,2.7,-2.5,
-3.85,1.3,-3.6,1.3,-3.3,1.22,-3.2,1.3,-2.9,1.3,-2.8,1.1,-2.6,1.25,-2.4,1.1,-2.1,1.08,-1.9,1.0,-1.6,1.05,-1.4,0.88,-1.1,0.82,-0.9,0.72,-0.7,0.8,-0.4,0.68,-0.2,0.6,0.0,0.55,0.3,0.5,0.5,0.4,0.7,0.38,0.9,0.3,1.1,0.25,1.3,0.2,1.5,0.12,1.7,0.05,1.9,0.08,2.1,-0.02,2.3,-0.05,2.5,-0.15,2.7,-0.12,2.9,-0.25,3.1,-0.3,3.3,-0.4,3.5,-0.48,3.7,-0.4,3.2,-0.62,
-3.5,0.92,-3.2,0.88,-2.9,0.85,-2.7,0.9,-2.3,0.82,-2.1,0.85,-1.8,0.7,-1.6,0.72,-1.3,0.62,-1.1,0.6,-0.8,0.55,-0.6,0.48,-0.3,0.42,-0.1,0.4,0.2,0.28,0.4,0.22,0.7,0.12,0.9,0.15,1.2,0.02,1.4,0.05,1.7,-0.08,1.9,-0.12,2.2,-0.18,2.4,-0.25,2.7,-0.35,
-3.4,0.5,-3.1,0.3,-2.9,0.3,-2.7,0.2,-2.5,0.18,-2.3,0.15,-2.1,0.08,-1.9,0.0,-1.7,0.02,-1.5,-0.05,-1.3,-0.1,-1.1,-0.12,-0.9,-0.15,-0.7,-0.18,-0.5,-0.25,-0.3,-0.25,-0.1,-0.3,0.1,-0.35,0.3,-0.38,0.5,-0.42,0.7,-0.45,0.9,-0.5,1.1,-0.55,1.3,-0.58,1.5,-0.62,1.7,-0.65,1.9,-0.7,2.1,-0.72,2.3,-0.75,2.5,-0.78,2.7,-0.85,
-4.0,-0.55,-3.85,-0.55,-3.75,-0.7,-3.55,-0.75,-3.45,-0.82,-3.35,-0.6,-3.25,-0.78,-3.15,-0.88,-3.05,-0.7,-2.95,-0.95,-2.85,-0.78,-2.75,-1.0,-2.65,-1.0,-2.55,-0.95,-2.45,-1.15,-2.35,-0.95,-2.25,-1.18,-2.15,-1.1,-2.05,-1.3,-1.95,-1.12,-1.85,-1.3,-1.75,-1.1,-1.65,-1.35,-1.55,-1.38,-1.45,-1.25,-1.35,-1.45,-1.25,-1.45,-1.15,-1.4,-1.05,-1.55,-0.95,-1.35,-0.85,-1.6,-0.75,-1.42,-0.65,-1.65,-0.55,-1.55,-0.45,-1.45,-0.35,-1.7,-0.25,-1.65,-0.15,-1.55,-0.05,-1.75,0.1,-1.7,0.3,-1.6,0.5,-1.8,0.7,-1.75,
-3.1,-2.05,-2.8,-2.05,-2.5,-2.1,-2.2,-2.1,-1.95,-2.3,-1.8,-2.25,-1.6,-2.35,-1.3,-2.4,-1.1,-2.45,-0.9,-2.5,-0.7,-2.55,-0.5,-2.6,-0.3,-2.65,-0.1,-2.72,0.0,-2.75,0.2,-2.75,0.4,-2.85,0.6,-2.9,0.8,-2.95]

captions = ['(a) Original: meaning', '(b) Original: style', '(c) Proposed: meaning', '(d) Proposed: style']
xlabels = ['meaning_x', 'style_x', 'meaning_x', 'style_x']
ylabels = ['meaning_y', 'style_y', 'meaning_y', 'style_y']
legend_title = 'class'
class_names = ['0', '1']
xticks = [[-4,-3,-2,-1,0,1], [-6,-4,-2,0,2,4,6], [-1,0,1,2,3,4], [-6,-4,-2,0,2,4,6]]
yticks = [[-3,-2,-1,0,1], [-3,-2,-1,0,1], [-1.5,-1,-0.5,0,0.5,1,1.5], [-4,-3,-2,-1,0,1]]
ytick_labels = [None, None, ['\u22121.5','\u22121.0','\u22120.5','0.0','0.5','1.0','1.5'], None]

W, H = 532, 441
fig = plt.figure(figsize=(W/100, H/100), dpi=100, facecolor='white')

def axes_px(l, t, r, b):
    return fig.add_axes([l/W, 1-b/H, (r-l)/W, (b-t)/H])

boxes = [(35.7,13.3,234.3,161.3), (341.7,13.3,540.3,161.3), (35.7,253.3,234.3,401.3), (341.7,253.3,540.3,401.3)]
limits = [((-4.576,1.567),(-3.41,1.40)), ((-7.11,7.97),(-3.41,1.61)), ((-1.717,4.39),(-1.5,1.583)), ((-6.65,6.19),(-4.17,2.0))]
series = [(a0,a1), (b0,b1), (c0,c1), (d0,d1)]
legend_loc = ['upper left','upper left','upper left','upper right']
cap_xy = [(132,198), (437.5,198), (132.5,436), (437.5,436)]
marker_area = [10.5, 13.5, 11.5, 13.0]

for i in range(4):
    ax = axes_px(*boxes[i])
    s0 = np.array(series[i][0]).reshape(-1,2)
    s1 = np.array(series[i][1]).reshape(-1,2)
    pts = np.vstack([s0, s1])
    cols = [BLUE]*len(s0) + [ORANGE]*len(s1)
    rank = np.concatenate([np.linspace(0,1,len(s0)), np.linspace(0,1,len(s1))])
    # mix the two classes in drawing order, as a single hue scatter does
    order = np.argsort((rank*37.0) % 1.0, kind='stable')
    ax.scatter(pts[order,0], pts[order,1], s=marker_area[i], c=[cols[k] for k in order],
               alpha=0.55, edgecolors='white', linewidths=0.25)
    ax.set_xlim(limits[i][0]); ax.set_ylim(limits[i][1])
    ax.set_xticks(xticks[i]); ax.set_yticks(yticks[i])
    if ytick_labels[i]:
        ax.set_yticklabels(ytick_labels[i])
    ax.tick_params(labelsize=4.0, length=1.4, width=0.4, pad=1.4, colors=TXT)
    ax.set_xlabel(xlabels[i], fontsize=4.0, color=TXT, labelpad=1.6)
    ax.set_ylabel(ylabels[i], fontsize=4.0, color=TXT, labelpad=1.6)
    for sp in ax.spines.values():
        sp.set_color('#808080'); sp.set_linewidth(0.8)
    handles = [Line2D([],[],ls='',marker=None),
               Line2D([],[],ls='',marker='o',ms=2.6,color=BLUE,mec='white',mew=0.15),
               Line2D([],[],ls='',marker='o',ms=2.6,color=ORANGE,mec='white',mew=0.15)]
    leg = ax.legend(handles, [legend_title]+class_names, loc=legend_loc[i], fontsize=4.0)
    for t in leg.get_texts():
        t.set_color(TXT)
    leg.get_frame().set_linewidth(0.4)
    fig.text(cap_xy[i][0]/W, 1-cap_xy[i][1]/H, captions[i], family='cmr10', fontsize=16.4,
             color='#111111', ha='center', va='baseline')

fig.savefig('out.png', dpi=100, facecolor='white')
